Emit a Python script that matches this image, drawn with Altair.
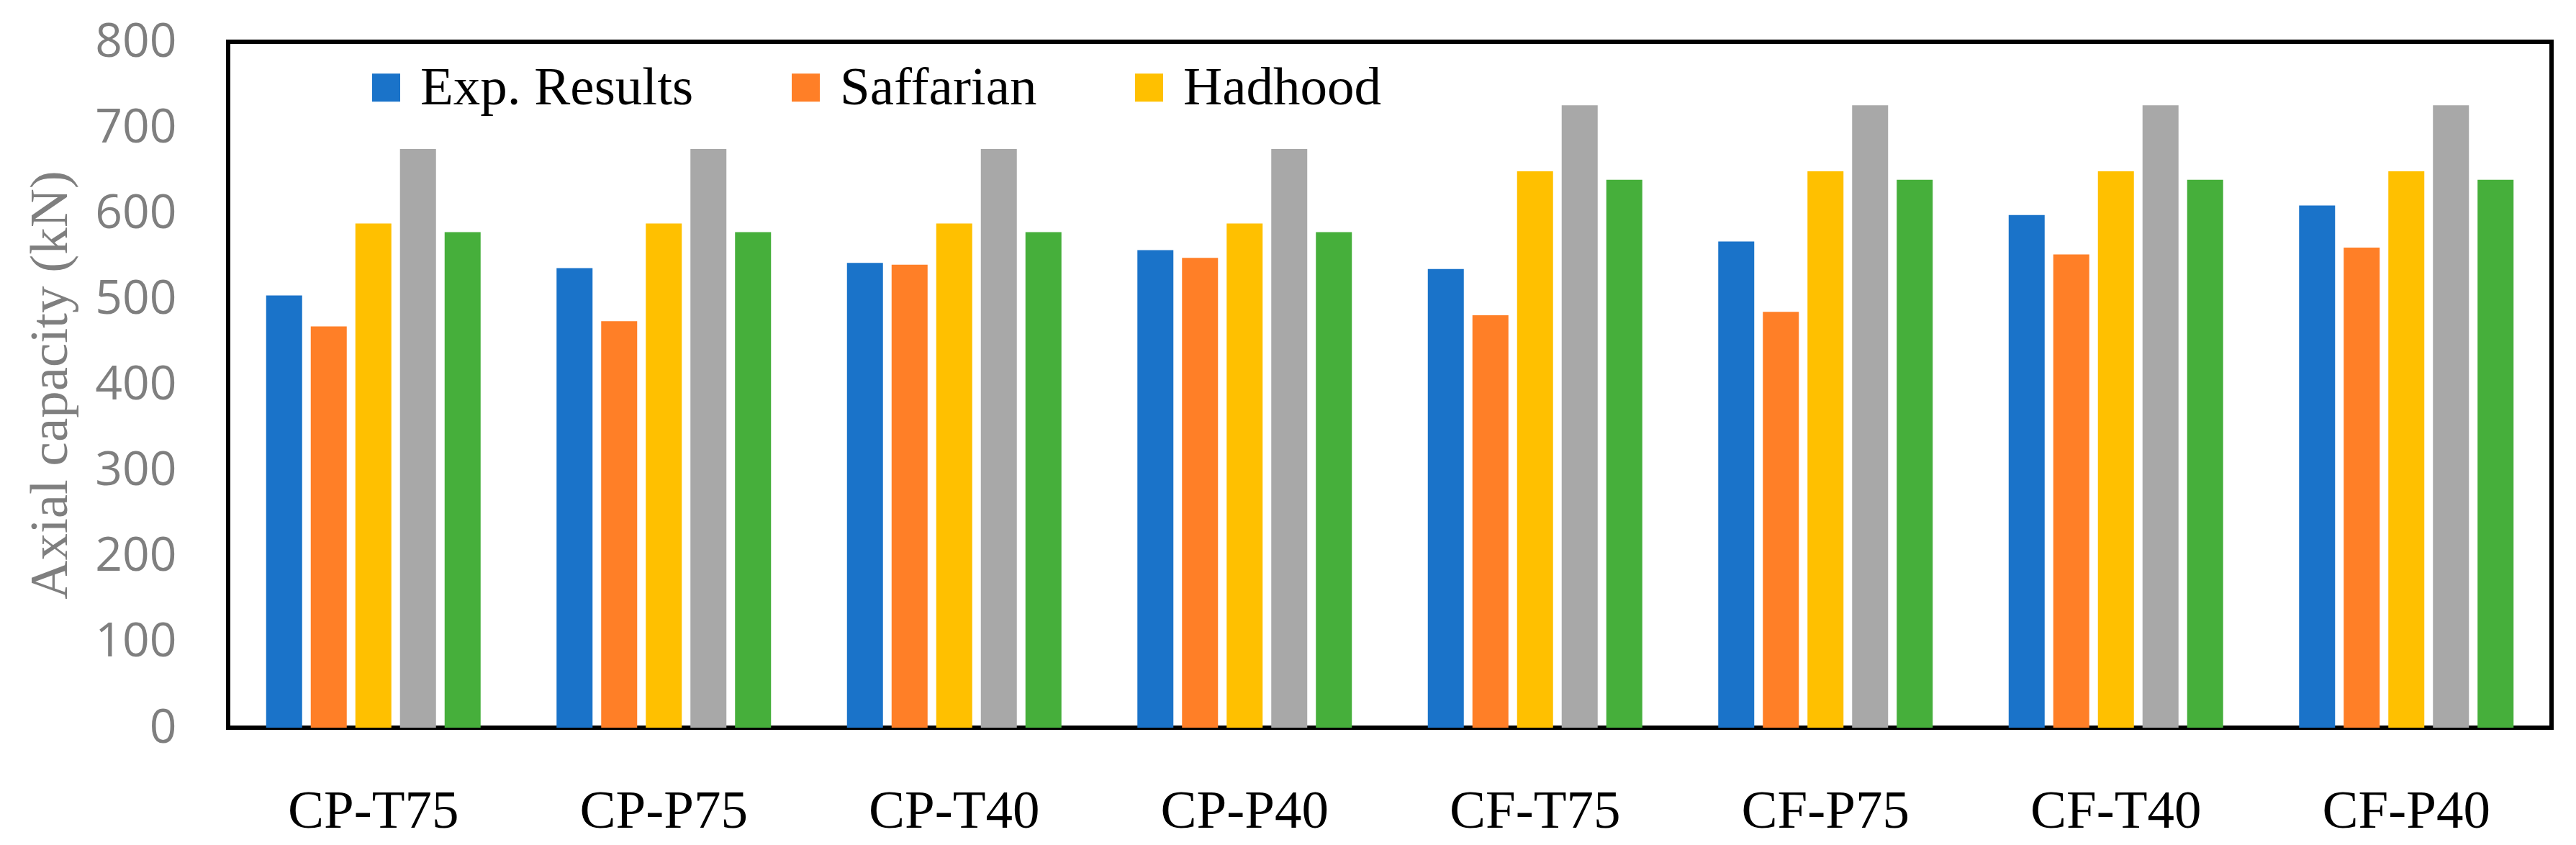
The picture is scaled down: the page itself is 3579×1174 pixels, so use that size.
import altair as alt
import pandas as pd

specimens = ["CP-T75", "CP-P75", "CP-T40", "CP-P40", "CF-T75", "CF-P75", "CF-T40", "CF-P40"]
series = ["Exp. Results", "Saffarian", "Hadhood", "Series 4", "Series 5"]
legend_shown = ["Exp. Results", "Saffarian", "Hadhood"]
colors = ["#1A73C9", "#FF7F27", "#FFC000", "#A8A8A8", "#46AF3B"]

exp_results = [504, 536, 542, 557, 535, 567, 598, 609]
saffarian = [468, 474, 540, 548, 481, 485, 552, 560]
hadhood = [588, 588, 588, 588, 649, 649, 649, 649]
series4 = [675, 675, 675, 675, 726, 726, 726, 726]
series5 = [578, 578, 578, 578, 639, 639, 639, 639]

y_ticks = [0, 100, 200, 300, 400, 500, 600, 700, 800]

values = [exp_results, saffarian, hadhood, series4, series5]
rows = []
for name, vals in zip(series, values):
    for spec, v in zip(specimens, vals):
        rows.append({"Specimen": spec, "Series": name, "Value": v})
df = pd.DataFrame(rows)

PLOT_W = 3228
PLOT_H = 953

chart = alt.Chart(df).mark_bar().encode(
    x=alt.X(
        "Specimen:N",
        sort=specimens,
        scale=alt.Scale(paddingInner=0, paddingOuter=0),
        axis=alt.Axis(
            title=None,
            labelAngle=0,
            domain=False,
            ticks=False,
            tickSize=0,
            labelPadding=138,
            labelBaseline="alphabetic",
            labelFont="Liberation Serif",
            labelFontSize=75,
            labelColor="black",
            labelLimit=1000,
        ),
    ),
    xOffset=alt.XOffset(
        "Series:N",
        sort=series,
        scale=alt.Scale(paddingInner=0.1935, paddingOuter=0.851),
    ),
    y=alt.Y(
        "Value:Q",
        scale=alt.Scale(domain=[0, 800], nice=False, zero=True),
        axis=alt.Axis(
            values=y_ticks,
            grid=False,
            domain=False,
            ticks=False,
            tickSize=0,
            labelPadding=72,
            labelFont="Open Sans",
            labelFontSize=66,
            labelColor="#7f7f7f",
            labelFlush=False,
            labelOverlap=False,
            title="Axial capacity (kN)",
            titleFont="Liberation Serif",
            titleFontSize=75,
            titleFontWeight="normal",
            titleColor="#7f7f7f",
            titleX=-225,
            titleY=PLOT_H / 2,
            titleAngle=270,
            titleAlign="center",
            titleBaseline="alphabetic",
        ),
    ),
    color=alt.Color(
        "Series:N",
        sort=series,
        scale=alt.Scale(domain=series, range=colors),
        legend=alt.Legend(
            title=None,
            values=legend_shown,
            orient="none",
            legendX=182,
            legendY=26,
            direction="horizontal",
            symbolType="square",
            symbolSize=1521,
            symbolStrokeWidth=0,
            labelFont="Liberation Serif",
            labelFontSize=75,
            labelColor="black",
            labelOffset=10,
            labelLimit=1000,
            columnPadding=118,
            padding=0,
        ),
    ),
).properties(
    width=PLOT_W,
    height=PLOT_H,
    autosize=alt.AutoSizeParams(type="none"),
    padding={"left": 309, "top": 50, "right": 26, "bottom": 155},
    background="white",
).configure_view(
    stroke="black",
    strokeWidth=6,
)

chart.save("out.html", embed_options={"renderer": "svg", "actions": False})
